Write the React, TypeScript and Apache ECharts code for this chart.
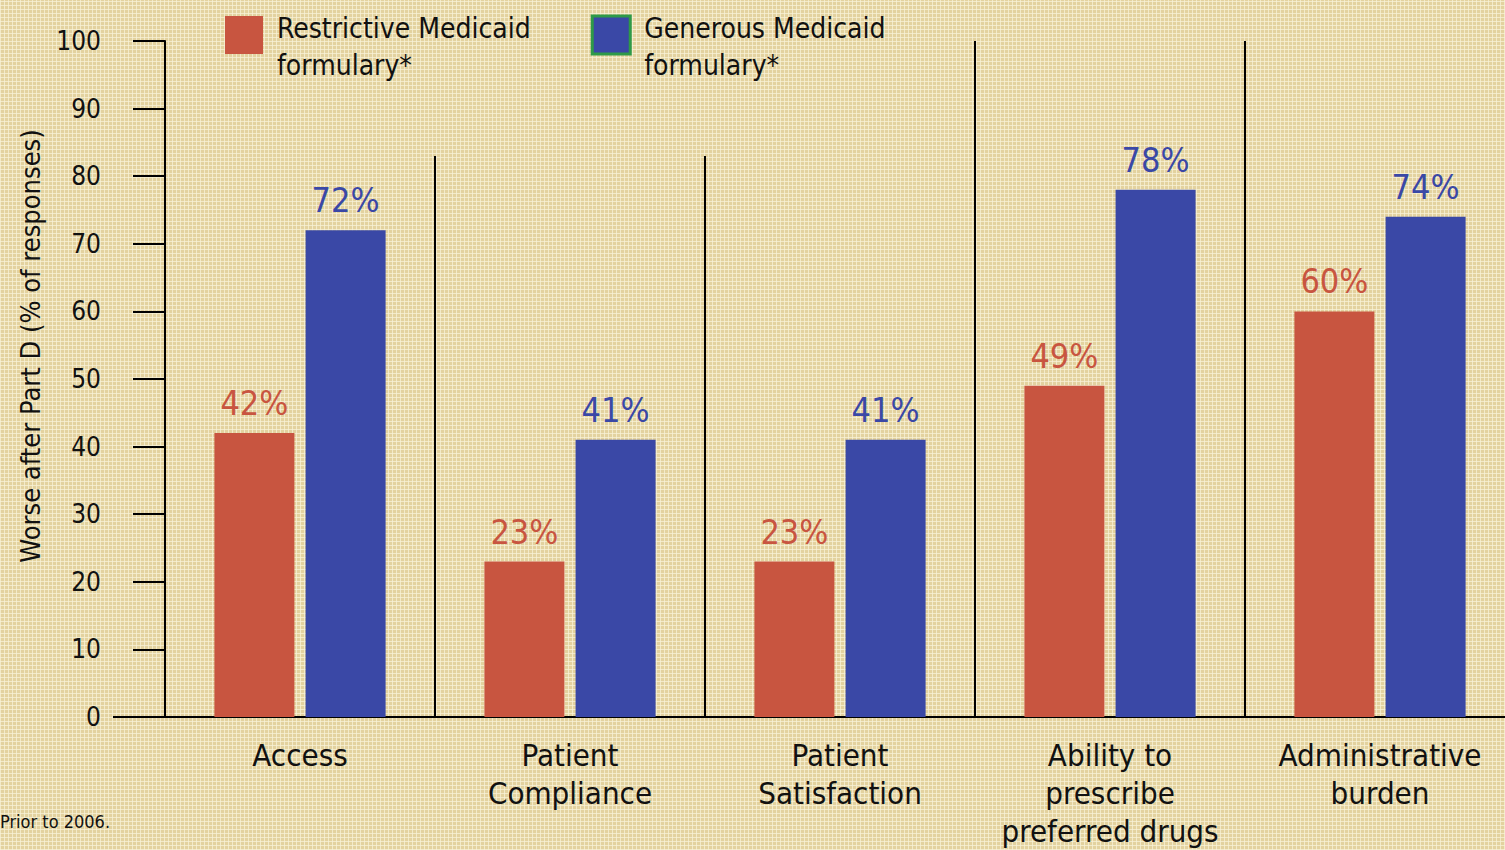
import React, { useEffect, useRef } from "react";
import * as echarts from "echarts";

const categories = [
  "Access",
  "Patient\nCompliance",
  "Patient\nSatisfaction",
  "Ability to\nprescribe\npreferred drugs",
  "Administrative\nburden",
];
const restrictive = [42, 23, 23, 49, 60];
const generous = [72, 41, 41, 78, 74];
const seriesNames = ["Restrictive Medicaid formulary*", "Generous Medicaid formulary*"];
const legendLines: Record<string, [string, string]> = {
  "Restrictive Medicaid formulary*": ["Restrictive Medicaid", "formulary*"],
  "Generous Medicaid formulary*": ["Generous Medicaid", "formulary*"],
};
// separator lines between categories: [boundary index, height in % units]
const separators: [number, number][] = [
  [1, 83],
  [2, 83],
  [3, 100],
  [4, 100],
];
const yAxisTitle = "Worse after Part D (% of responses)";
const footnote = "Prior to 2006.";

const RED = "#c85540";
const BLUE = "#3a48a6";
const FONT = "'DejaVu Sans Condensed', 'DejaVu Sans', sans-serif";

export default function App() {
  const ref = useRef<HTMLDivElement>(null);
  useEffect(() => {
    document.body.style.margin = "0";
    const chart = echarts.init(ref.current!, null, { renderer: "svg" });
    const option: any = {
      animation: false,
      backgroundColor: "transparent",
      textStyle: { fontFamily: FONT },
      grid: {
        left: 165,
        top: 41,
        width: 1350,
        height: 676,
        containLabel: false,
        outerBoundsMode: "none",
      },
      legend: {
        left: 225,
        top: -7,
        padding: 0,
        itemWidth: 38,
        itemHeight: 38,
        itemGap: 60,
        icon: "rect",
        selectedMode: false,
        formatter: (n: string) => {
          const l = legendLines[n] || [n, ""];
          return `{s|}\n{t|${l[0]}}\n{t|${l[1]}}`;
        },
        textStyle: {
          fontFamily: FONT,
          fontSize: 28,
          color: "#111",
          padding: [0, 0, 0, 9],
          rich: {
            s: { fontSize: 10, lineHeight: 24 },
            t: { fontFamily: FONT, fontSize: 28, lineHeight: 37, color: "#111" },
          },
        },
        data: [
          { name: seriesNames[0], itemStyle: { color: RED } },
          { name: seriesNames[1], itemStyle: { color: BLUE, borderColor: "#2e9a48", borderWidth: 3 } },
        ],
      },
      xAxis: [
        {
          type: "category",
          data: categories,
          axisLine: { lineStyle: { color: "#000", width: 2 } },
          axisTick: { show: false },
          axisLabel: {
            fontFamily: FONT,
            fontSize: 31,
            color: "#111",
            lineHeight: 38,
            margin: 19,
            interval: 0,
          },
        },
        {
          type: "value",
          min: 0,
          max: 5,
          show: false,
        },
      ],
      yAxis: {
        type: "value",
        min: 0,
        max: 100,
        interval: 10,
        axisLine: { show: true, lineStyle: { color: "#000", width: 2 } },
        axisTick: { show: true, length: 32, lineStyle: { color: "#000", width: 2 } },
        splitLine: { show: false },
        axisLabel: { fontFamily: FONT, fontSize: 26, color: "#111", margin: 64 },
      },
      series: [
        {
          name: seriesNames[0],
          type: "bar",
          data: restrictive,
          barWidth: 80,
          barGap: "14%",
          itemStyle: { color: RED },
          label: {
            show: true,
            position: "top",
            distance: 13,
            formatter: "{c}%",
            fontFamily: FONT,
            fontSize: 34,
            color: RED,
          },
        },
        {
          name: seriesNames[1],
          type: "bar",
          data: generous,
          barWidth: 80,
          itemStyle: { color: BLUE },
          label: {
            show: true,
            position: "top",
            distance: 13,
            formatter: "{c}%",
            fontFamily: FONT,
            fontSize: 34,
            color: BLUE,
          },
        },
        {
          type: "lines",
          coordinateSystem: "cartesian2d",
          xAxisIndex: 1,
          yAxisIndex: 0,
          silent: true,
          lineStyle: { color: "#000", width: 2, opacity: 1 },
          data: separators.map(([b, h]) => ({ coords: [[b, 0], [b, h]] })),
        },
      ],
    };
    chart.setOption(option);
    const zero = chart.convertToPixel({ yAxisIndex: 0 }, 0) as number;
    const left = chart.convertToPixel({ xAxisIndex: 1 }, 0) as number;
    const top = chart.convertToPixel({ yAxisIndex: 0 }, 50) as number;
    chart.setOption({
      graphic: [
        {
          type: "line",
          shape: { x1: left - 52, y1: zero, x2: left, y2: zero },
          style: { stroke: "#000", lineWidth: 2 },
        },
        {
          type: "text",
          x: 30,
          y: top - 33,
          rotation: Math.PI / 2,
          style: {
            text: yAxisTitle,
            fontFamily: FONT,
            fontSize: 27,
            fill: "#111",
            align: "center",
            verticalAlign: "middle",
          },
        },
        {
          type: "text",
          x: 0,
          y: 821,
          style: {
            text: footnote,
            fontFamily: FONT,
            fontSize: 18,
            fill: "#111",
            align: "left",
            verticalAlign: "middle",
          },
        },
      ],
    });
    return () => chart.dispose();
  }, []);
  return (
    <div
      style={{
        position: "fixed",
        left: 0,
        top: 0,
        width: 1505,
        height: 850,
        backgroundColor: "#e3d29f",
        backgroundImage:
          "repeating-linear-gradient(0deg, rgba(248,242,215,0.75) 0px, rgba(248,242,215,0.75) 1px, transparent 1px, transparent 4px), repeating-linear-gradient(90deg, rgba(248,242,215,0.75) 0px, rgba(248,242,215,0.75) 1px, transparent 1px, transparent 4px)",
      }}
    >
      <div ref={ref} style={{ width: 1505, height: 850 }} />
    </div>
  );
}
